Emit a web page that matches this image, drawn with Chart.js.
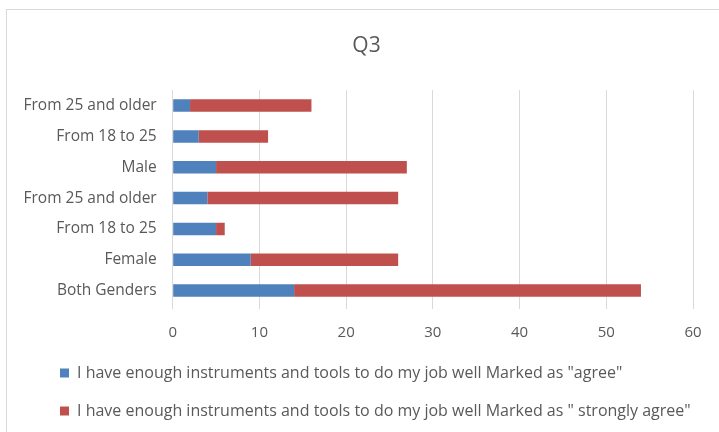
<!DOCTYPE html>
<html>
<head>
<meta charset="utf-8">
<script src="https://cdn.jsdelivr.net/npm/chart.js@4"></script>
<style>
  html, body { margin: 0; padding: 0; background: #fff; overflow: hidden; }
  #wrap { position: relative; width: 719px; height: 432px; }
  #frame { position: absolute; left: 6px; top: 9px; width: 800px; height: 500px;
           border: 1px solid #d9d9d9; pointer-events: none; }
  canvas { position: absolute; left: 0; top: 0; }
</style>
</head>
<body>
<div id="wrap">
  <div id="frame"></div>
  <canvas id="chart" width="719" height="432"></canvas>
</div>
<script>
// Categories, top to bottom
const categories = ['From 25 and older', 'From 18 to 25', 'Male', 'From 25 and older', 'From 18 to 25', 'Female', 'Both Genders'];

// Series values
const agree = [2, 3, 5, 4, 5, 9, 14];
const stronglyAgree = [14, 8, 22, 22, 1, 17, 40];

const seriesNames = [
    'I have enough instruments and tools to do my job well Marked as "agree"',
    'I have enough instruments and tools to do my job well Marked as " strongly agree"'
];

// Value axis ticks
const xTicks = [0, 10, 20, 30, 40, 50, 60];

const textColor = '#595959';
const gridColor = '#d9d9d9';
const fontFamily = '"Open Sans", Lato, sans-serif';

// nudge the legend and title sideways, the chart area stays put
const shiftBlocks = {
    id: 'shiftBlocks',
    afterLayout(chart) {
        chart.legend.left += 30;
        chart.legend.right += 30;
        chart.titleBlock.left += 16;
        chart.titleBlock.right += 16;
    }
};

const ctx = document.getElementById('chart').getContext('2d');

new Chart(ctx, {
    type: 'bar',
    data: {
        labels: categories,
        datasets: [
            {
                label: seriesNames[0],
                data: agree,
                backgroundColor: '#4f81bd',
                barPercentage: 0.45,
                categoryPercentage: 0.9
            },
            {
                label: seriesNames[1],
                data: stronglyAgree,
                backgroundColor: '#c0504d',
                barPercentage: 0.45,
                categoryPercentage: 0.9
            }
        ]
    },
    plugins: [shiftBlocks],
    options: {
        indexAxis: 'y',
        responsive: false,
        animation: false,
        layout: { padding: { left: 8, right: 26, top: 0, bottom: 3 } },
        plugins: {
            title: {
                display: true,
                text: 'Q3',
                color: textColor,
                font: { family: fontFamily, size: 21, weight: 'normal' },
                padding: { top: 33, bottom: 32 }
            },
            legend: {
                position: 'bottom',
                align: 'start',
                labels: {
                    color: textColor,
                    font: { family: fontFamily, size: 16 },
                    boxWidth: 9,
                    boxHeight: 9,
                    padding: 22
                }
            },
            tooltip: { enabled: false }
        },
        scales: {
            x: {
                stacked: true,
                min: 0,
                max: 60,
                afterBuildTicks: (scale) => { scale.ticks = xTicks.map(v => ({ value: v })); },
                afterFit: (scale) => { scale.height = 37; },
                border: { display: false },
                grid: { color: gridColor, lineWidth: 1, drawTicks: true, tickLength: 3 },
                ticks: {
                    color: textColor,
                    font: { family: fontFamily, size: 15 },
                    padding: 15
                }
            },
            y: {
                stacked: true,
                afterFit: (scale) => { scale.width = 164.7; },
                border: { display: false },
                grid: { display: false, drawTicks: false },
                ticks: {
                    color: textColor,
                    font: { family: fontFamily, size: 15.5 },
                    padding: 16,
                    autoSkip: false
                }
            }
        }
    }
});
</script>
</body>
</html>
